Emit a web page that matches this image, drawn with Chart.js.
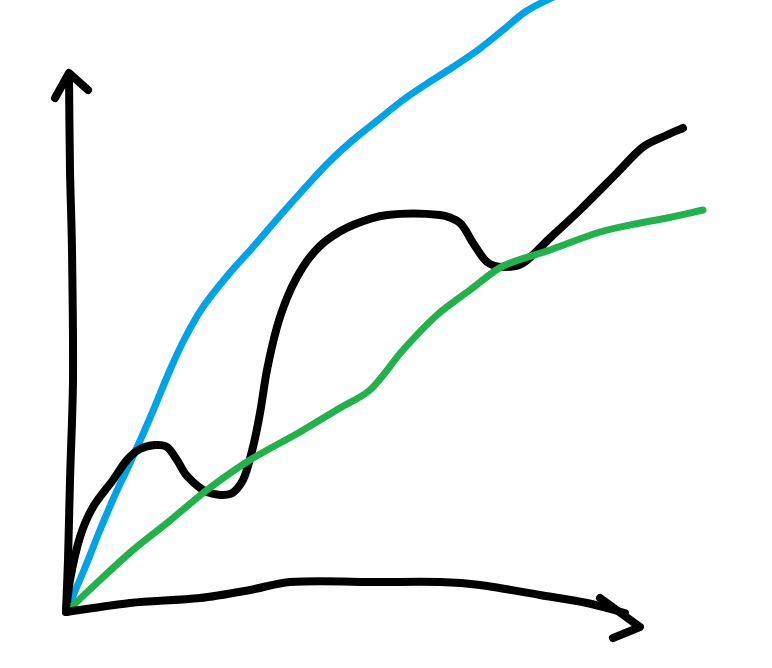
<!DOCTYPE html>
<html>
<head>
<meta charset="utf-8">
<script src="https://cdn.jsdelivr.net/npm/chart.js@4/dist/chart.umd.min.js"></script>
<style>
  html, body { margin: 0; padding: 0; background: #fff; }
  #box { width: 772px; height: 668px; }
</style>
</head>
<body>
<div id="box"><canvas id="grafico"></canvas></div>
<script>
// valores (x para a direita, y para baixo)
const azulX = [66, 84, 100, 115, 130, 150, 170, 185, 203, 228, 253, 278, 303, 328, 353, 378, 403, 428, 453, 478, 503, 525, 547, 565];
const azulY = [612, 570, 530, 495, 463, 418, 370, 338, 307, 275, 247, 218, 190, 163, 140, 120, 100, 83, 67, 50, 30, 12, 0, -8];

const pretoX = [66, 70, 80, 93, 113, 127, 140, 155, 167, 177, 187, 207, 230, 243, 253, 260, 267, 277, 287, 297, 310, 327, 353, 387, 440, 460, 473, 487, 503, 523, 550, 580, 617, 643, 667, 683];
const pretoY = [612, 580, 537, 507, 480, 460, 449, 445, 447, 460, 476, 492, 494, 480, 447, 413, 370, 327, 298, 277, 257, 240, 225, 215, 215, 223, 243, 262, 267, 263, 238, 210, 173, 147, 135, 128];

const verdeX = [66, 100, 133, 167, 207, 250, 300, 340, 370, 403, 437, 470, 503, 550, 600, 640, 667, 703];
const verdeY = [612, 580, 550, 523, 490, 460, 432, 408, 390, 350, 315, 290, 266, 250, 232, 223, 218, 210];

// eixos desenhados a mao
const eixoYX = [66, 68, 70, 73, 72, 70, 69];
const eixoYY = [612, 560, 480, 380, 250, 170, 75];
const setaYX = [55, 69, 88];
const setaYY = [98, 73, 90];

const eixoXX = [66, 130, 200, 250, 290, 380, 440, 480, 540, 587, 625];
const eixoXY = [612, 603, 598, 590, 582, 582, 582, 585, 595, 603, 613];
const setaXX = [600, 640, 613];
const setaXY = [598, 627, 638];

function pontos(xs, ys) {
  return xs.map(function (x, i) {
    return { x: x, y: ys[i] };
  });
}

function linha(xs, ys, cor, largura, tensao) {
  return {
    data: pontos(xs, ys),
    borderColor: cor,
    borderWidth: largura,
    borderCapStyle: "round",
    borderJoinStyle: "round",
    pointRadius: 0,
    showLine: true,
    fill: false,
    tension: tensao,
  };
}

new Chart(document.getElementById("grafico"), {
  type: "scatter",
  data: {
    datasets: [
      linha(eixoYX, eixoYY, "#000000", 8, 0.3),
      linha(setaYX, setaYY, "#000000", 8, 0),
      linha(eixoXX, eixoXY, "#000000", 8, 0.3),
      linha(setaXX, setaXY, "#000000", 8, 0),
      linha(verdeX, verdeY, "#22B14C", 7, 0.3),
      linha(pretoX, pretoY, "#000000", 8, 0.3),
      linha(azulX, azulY, "#00A2E8", 7, 0.3),
    ],
  },
  options: {
    responsive: true,
    maintainAspectRatio: false,
    animation: false,
    devicePixelRatio: 1,
    layout: { padding: 0 },
    plugins: {
      legend: { display: false },
      tooltip: { enabled: false },
    },
    scales: {
      x: { type: "linear", min: 0, max: 772, display: false },
      y: { type: "linear", min: 0, max: 668, reverse: true, display: false },
    },
  },
});
</script>
</body>
</html>
